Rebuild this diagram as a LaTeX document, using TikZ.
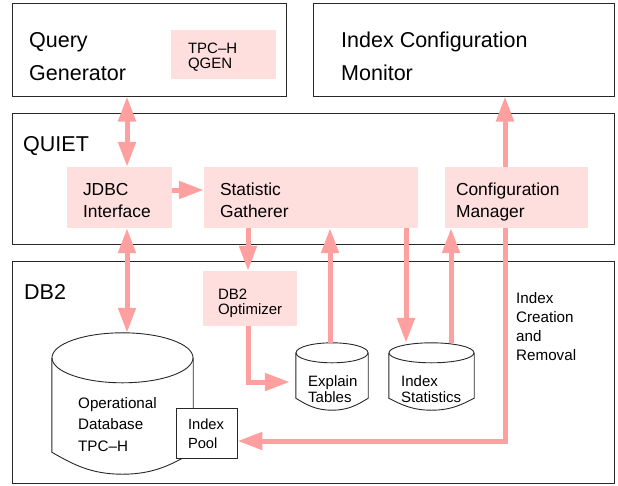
\documentclass[tikz,border=0pt]{standalone}
\usepackage{fontspec}
\setmainfont{Liberation Sans}
\usepackage{tikz}
\usetikzlibrary{arrows.meta,calc}
\definecolor{flowpink}{RGB}{255,160,160}
\definecolor{boxpink}{RGB}{255,222,222}
\definecolor{edgegray}{RGB}{40,40,40}
\tikzset{
  layerbox/.style={
    draw=edgegray,
    line width=1pt,
    fill=white,
    inner sep=0pt
  },
  layertitle/.style={
    anchor=base west,
    inner sep=0pt,
    align=left,
    font=\fontsize{21.5}{33}\selectfont
  },
  compblock/.style={
    fill=boxpink,
    inner ysep=0pt,
    align=left,
    minimum height=61pt,
    text height=12.5pt,
    text depth=17.5pt,
    font=\fontsize{17.4}{22.5}\selectfont
  },
  smallblock/.style={
    fill=boxpink,
    inner ysep=0pt,
    align=left,
    text height=11pt,
    font=\fontsize{15}{15}\selectfont
  },
  drum/.style={
    inner sep=0pt
  },
  drumline/.style={
    draw=edgegray,
    line width=0.9pt
  },
  drumtext/.style={
    anchor=base west,
    inner sep=0pt,
    align=left,
    font=\fontsize{15}{15.5}\selectfont
  },
  poolbox/.style={
    draw=edgegray,
    line width=0.9pt,
    fill=white,
    inner ysep=0pt,
    align=left,
    text height=11pt,
    text depth=19pt,
    font=\fontsize{14.7}{19}\selectfont
  },
  flowarrow/.style={
    draw=flowpink,
    line width=5pt,
    -{Triangle[length=25pt,width=17pt]}
  },
  flowboth/.style={
    flowarrow,
    {Triangle[length=25pt,width=17pt]}-{Triangle[length=25pt,width=17pt]}
  }
}
% outline of a database drum round an empty node: node, x radius, y radius, dip of the bottom
\newcommand{\drumoutline}[4]{%
  \draw[drumline] ($(#1.north)+(0,#3)$) ellipse [x radius=#2, y radius=#3];
  \draw[drumline] ($(#1.north west)+(0,#3)$) -- ($(#1.south west)+(0,-#4)$)
    .. controls +({0.3*#2},{0.55*#4}) and +({-0.45*#2},0) .. (#1.south)
    .. controls +({0.45*#2},0) and +({-0.3*#2},{0.55*#4}) .. ($(#1.south east)+(0,-#4)$)
    -- ($(#1.north east)+(0,#3)$);
}
\begin{document}
\begin{tikzpicture}[x=1pt,y=-1pt]
  \useasboundingbox (0,0) rectangle (618,485);

  % layers
  \node[layerbox, minimum width=274pt, minimum height=93pt] (qg) at (149,49.5) {};
  \node[layerbox, minimum width=301pt, minimum height=93pt] (icm) at (463.5,49.5) {};
  \node[layerbox, minimum width=602pt, minimum height=131pt] (quiet) at (313,178.5) {};
  \node[layerbox, minimum width=602pt, minimum height=222pt] (db2) at (313,372) {};
  \node[layertitle] (qgtitle) at (29,80) {Query\\Generator};
  \node[layertitle] (icmtitle) at (341,80) {Index Configuration\\Monitor};
  \node[layertitle] (quiettitle) at (23,151) {QUIET};
  \node[layertitle] (db2title) at (24,299) {DB2};

  % components
  \node[smallblock, minimum width=105pt, minimum height=49pt, inner xsep=17pt, text width=71pt, text depth=14pt] (qgen) at (223.5,54.5) {TPC--H\\QGEN};
  \node[compblock, inner xsep=16pt, text width=73pt] (jdbc) at (119.5,197.5) {JDBC\\Interface};
  \node[compblock, inner xsep=16pt, text width=182pt] (sg) at (311,197.5) {Statistic\\Gatherer};
  \node[compblock, inner xsep=11pt, text width=121pt] (cm) at (516.5,197.5) {Configuration\\Manager};
  \node[smallblock, minimum height=55pt, inner xsep=15pt, text width=64pt, text depth=10pt] (opt) at (250,298.5) {DB2\\Optimizer};

  % storage
  \node[drum, minimum width=141pt, minimum height=141pt] (opdb) at (122.5,403.5) {};
  \node[drum, minimum width=72pt, minimum height=67pt] (et) at (332,376.5) {};
  \node[drum, minimum width=85pt, minimum height=67pt] (ist) at (431.5,376.5) {};
  \drumoutline{opdb}{70.5}{25}{22}
  \drumoutline{et}{36}{10}{12}
  \drumoutline{ist}{42.5}{10}{12}
  \node[drumtext, font=\fontsize{15.2}{21.5}\selectfont] (opdbtext) at (78,451) {Operational\\Database\\TPC--H};
  \node[drumtext] (ettext) at (308,402) {Explain\\Tables};
  \node[drumtext] (isttext) at (401,402) {Index\\Statistics};
  \node[poolbox, minimum height=50pt, inner xsep=12pt, text width=37pt] (pool) at (206.5,433) {Index\\Pool};
  \node[drumtext, font=\fontsize{15.2}{19}\selectfont] (icrtext) at (516,360) {Index\\Creation\\and\\Removal};

  % flows
  \draw[flowboth] ([xshift=7.5pt]jdbc.north) -- ([xshift=7.5pt]jdbc.north |- qg.south);
  \draw[flowboth] ([xshift=7.5pt]jdbc.south) -- ([xshift=7.5pt]jdbc.south |- opdb.north);
  \draw[flowarrow] ([yshift=7.5pt]jdbc.east) -- ([yshift=7.5pt]jdbc.east -| sg.west);
  \draw[flowarrow] ([xshift=-2pt]opt.north |- sg.south) -- ([xshift=-2pt]opt.north);
  \draw[flowarrow, shorten >=6pt] ([xshift=-2pt]opt.south) |- ([yshift=-5.5pt]et.west);
  \draw[flowarrow] ([xshift=-2pt]et.north) -- ([xshift=-2pt]et.north |- sg.south);
  \draw[flowarrow] ([xshift=-25.5pt]ist.north |- sg.south) -- ([xshift=-25.5pt]ist.north);
  \draw[flowarrow] ([xshift=19.5pt]ist.north) -- ([xshift=19.5pt]ist.north |- cm.south);
  \draw[flowarrow] ([xshift=-11.5pt]cm.north) -- ([xshift=-11.5pt]cm.north |- icm.south);
  \draw[flowarrow] ([xshift=-11.5pt]cm.south) |- ([yshift=-8pt]pool.east);
\end{tikzpicture}
\end{document}
